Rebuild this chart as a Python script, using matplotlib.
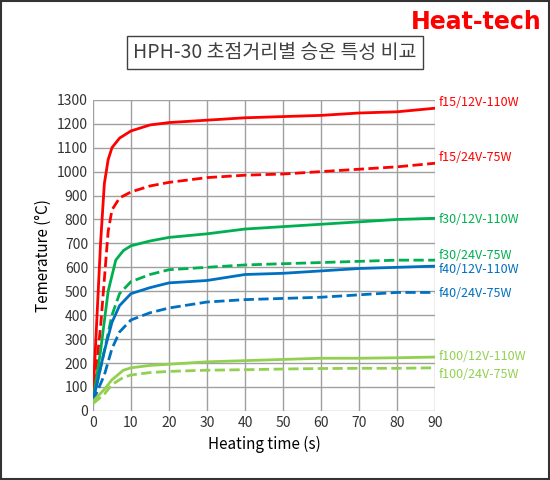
import matplotlib
matplotlib.use("Agg")
import matplotlib.pyplot as plt
from matplotlib.patches import Rectangle

plt.rcParams['font.family'] = ['Noto Sans CJK KR', 'DejaVu Sans']

t15_12 = [0, 2, 3, 4, 5, 7, 10, 15, 20, 30, 40, 50, 60, 70, 80, 90]
v15_12 = [50, 700, 950, 1050, 1100, 1140, 1170, 1195, 1205, 1215, 1225, 1230, 1235, 1245, 1250, 1265]
t15_24 = [0, 2, 4, 5, 7, 10, 15, 20, 30, 40, 50, 60, 70, 80, 90]
v15_24 = [50, 350, 750, 840, 890, 915, 940, 955, 975, 985, 990, 1000, 1010, 1020, 1035]
t30_12 = [0, 2, 4, 6, 8, 10, 15, 20, 30, 40, 50, 60, 70, 80, 90]
v30_12 = [40, 250, 500, 630, 670, 690, 710, 725, 740, 760, 770, 780, 790, 800, 805]
t_std = [0, 3, 5, 7, 10, 15, 20, 30, 40, 50, 60, 70, 80, 90]
v30_24 = [40, 250, 400, 490, 540, 570, 590, 600, 610, 615, 620, 625, 630, 630]
v40_12 = [40, 250, 370, 440, 490, 515, 535, 545, 570, 575, 585, 595, 600, 605]
v40_24 = [40, 150, 260, 330, 380, 410, 430, 455, 465, 470, 475, 485, 495, 495]
t100 = [0, 3, 5, 8, 10, 15, 20, 30, 40, 50, 60, 70, 80, 90]
v100_12 = [40, 90, 130, 170, 180, 190, 195, 205, 210, 215, 220, 220, 222, 225]
v100_24 = [30, 70, 110, 140, 150, 160, 165, 170, 172, 175, 177, 178, 178, 180]

series = [
    (t15_12, v15_12, '#FF0000', '-', 'f15/12V-110W', 1290),
    (t15_24, v15_24, '#FF0000', '--', 'f15/24V-75W', 1060),
    (t30_12, v30_12, '#00B050', '-', 'f30/12V-110W', 800),
    (t_std, v30_24, '#00B050', '--', 'f30/24V-75W', 650),
    (t_std, v40_12, '#0070C0', '-', 'f40/12V-110W', 590),
    (t_std, v40_24, '#0070C0', '--', 'f40/24V-75W', 490),
    (t100, v100_12, '#92D050', '-', 'f100/12V-110W', 228),
    (t100, v100_24, '#92D050', '--', 'f100/24V-75W', 150),
]

fig = plt.figure(figsize=(5.5, 4.8), dpi=100)
ax = fig.add_axes([0.169, 0.144, 0.622, 0.648])
for t, v, c, ls, lab, ly in series:
    ax.plot(t, v, color=c, ls=ls, lw=2)
    ax.text(91, ly, lab, color=c, fontsize=9, va='center', ha='left')

ax.set_xlim(0, 90)
ax.set_ylim(0, 1300)
ax.set_xticks(range(0, 91, 10))
ax.set_yticks(range(0, 1301, 100))
ax.grid(True, color='#A0A0A0', lw=1)
for s in ax.spines.values():
    s.set_visible(False)
ax.tick_params(length=0, labelsize=10, colors='#333333')
ax.set_xlabel('Heating time (s)', fontsize=11)
ax.set_ylabel('Temerature (°C)', fontsize=11)

fig.text(0.5, 0.89, 'HPH-30 초점거리별 승온 특성 비교', ha='center', va='center',
         fontsize=14, color='#404040', fontweight='medium',
         bbox=dict(boxstyle='square,pad=0.3', fc='white', ec='#404040', lw=1))
fig.text(0.985, 0.955, 'Heat-tech', ha='right', va='center', fontsize=17,
         color='#FF0000', fontweight='bold', family=['Liberation Sans Narrow', 'DejaVu Sans'])
fig.patches.append(Rectangle((0.002, 0.002), 0.996, 0.996, transform=fig.transFigure,
                             fill=False, ec='#333333', lw=1.5))
fig.savefig('out.png', dpi=100)
